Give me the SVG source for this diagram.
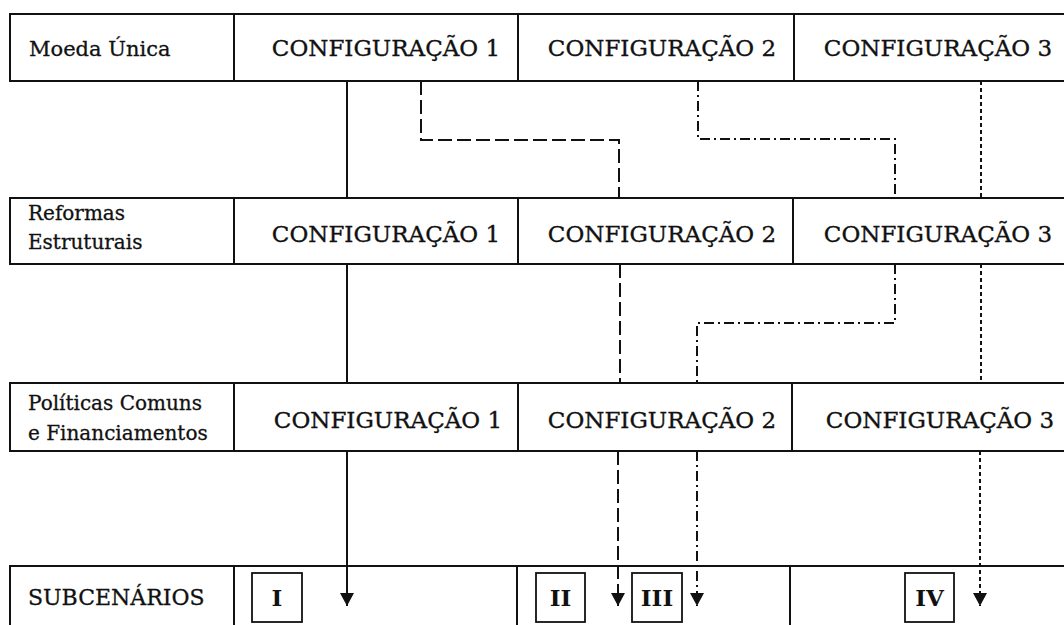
<svg xmlns="http://www.w3.org/2000/svg" width="1064" height="625" viewBox="0 0 1064 625">
<style>
.cell{fill:#fff;stroke:#111;stroke-width:2}
.cfg{font-family:"DejaVu Serif","Liberation Serif",serif;font-size:23px;fill:#111;stroke:#111;stroke-width:0.35;text-anchor:middle}
.lbl{font-family:"DejaVu Serif","Liberation Serif",serif;font-size:20px;fill:#111;stroke:#111;stroke-width:0.3}
.num{font-family:"DejaVu Serif","Liberation Serif",serif;font-size:23px;font-weight:bold;fill:#111;text-anchor:middle}
.box{fill:#fff;stroke:#111;stroke-width:1.8}
.ln{fill:none;stroke:#111;stroke-width:2}
.dash{stroke-dasharray:14 5}
.dashdot{stroke-dasharray:10 4 2 4}
.dot{stroke-dasharray:4 3}
</style>
<defs>
<marker id="arr" markerUnits="userSpaceOnUse" markerWidth="13" markerHeight="14" viewBox="0 0 13 14" refX="13" refY="7" orient="auto">
<path d="M0,0 L13,7 L0,14 z" fill="#111"/>
</marker>
</defs>
<rect width="1064" height="625" fill="#fff"/>

<g id="row1-label"><rect class="cell" x="10" y="14" width="224" height="67"/><text class="lbl" x="29" y="56" style="font-size:21px">Moeda Única</text></g>
<g id="row1-config1"><rect class="cell" x="234" y="14" width="284" height="67"/><text class="cfg" x="386" y="56">CONFIGURAÇÃO 1</text></g>
<g id="row1-config2"><rect class="cell" x="518" y="14" width="276" height="67"/><text class="cfg" x="662" y="56">CONFIGURAÇÃO 2</text></g>
<g id="row1-config3"><rect class="cell" x="794" y="14" width="280" height="67"/><text class="cfg" x="938" y="56">CONFIGURAÇÃO 3</text></g>

<g id="row2-label"><rect class="cell" x="10" y="198" width="224" height="66"/><text class="lbl" x="28" y="220">Reformas</text><text class="lbl" x="28" y="249">Estruturais</text></g>
<g id="row2-config1"><rect class="cell" x="234" y="198" width="284" height="66"/><text class="cfg" x="386" y="242">CONFIGURAÇÃO 1</text></g>
<g id="row2-config2"><rect class="cell" x="518" y="198" width="275" height="66"/><text class="cfg" x="662" y="242">CONFIGURAÇÃO 2</text></g>
<g id="row2-config3"><rect class="cell" x="793" y="198" width="281" height="66"/><text class="cfg" x="938" y="242">CONFIGURAÇÃO 3</text></g>

<g id="row3-label"><rect class="cell" x="10" y="383" width="224" height="68"/><text class="lbl" x="28" y="410">Políticas Comuns</text><text class="lbl" x="28" y="440">e Financiamentos</text></g>
<g id="row3-config1"><rect class="cell" x="234" y="383" width="284" height="68"/><text class="cfg" x="388" y="428">CONFIGURAÇÃO 1</text></g>
<g id="row3-config2"><rect class="cell" x="518" y="383" width="274" height="68"/><text class="cfg" x="662" y="428">CONFIGURAÇÃO 2</text></g>
<g id="row3-config3"><rect class="cell" x="792" y="383" width="282" height="68"/><text class="cfg" x="940" y="428">CONFIGURAÇÃO 3</text></g>

<g id="row4-label"><rect class="cell" x="10" y="566" width="224" height="80"/><text class="lbl" x="28" y="605" style="font-size:22px">SUBCENÁRIOS</text></g>
<g id="row4-cell1"><rect class="cell" x="234" y="566" width="283" height="80"/></g>
<g id="row4-cell2"><rect class="cell" x="517" y="566" width="273" height="80"/></g>
<g id="row4-cell3"><rect class="cell" x="790" y="566" width="284" height="80"/></g>

<g id="sub-I"><rect class="box" x="252" y="573" width="50" height="49"/><text class="num" x="277" y="606">I</text></g>
<g id="sub-II"><rect class="box" x="536" y="573" width="49" height="49"/><text class="num" x="560.5" y="606">II</text></g>
<g id="sub-III"><rect class="box" x="632" y="573" width="50" height="49"/><text class="num" x="657" y="606">III</text></g>
<g id="sub-IV"><rect class="box" x="905" y="573" width="49" height="49"/><text class="num" x="929.5" y="606">IV</text></g>

<g id="connectors">
<path class="ln" d="M347,81 V198"/>
<path class="ln" d="M347,264 V383"/>
<path class="ln" d="M347,451 V606" marker-end="url(#arr)"/>
<path class="ln dash" d="M421,81 V140 H619 V198"/>
<path class="ln dash" d="M620,264 V383"/>
<path class="ln dash" d="M618,451 V606" marker-end="url(#arr)"/>
<path class="ln dashdot" d="M698,81 V139 H895 V198"/>
<path class="ln dashdot" d="M895,264 V323 H697 V383"/>
<path class="ln dashdot" d="M697,451 V606" marker-end="url(#arr)"/>
<path class="ln dot" d="M981,81 V198"/>
<path class="ln dot" d="M981,264 V383"/>
<path class="ln dot" d="M980,451 V606" marker-end="url(#arr)"/>
</g>
</svg>
